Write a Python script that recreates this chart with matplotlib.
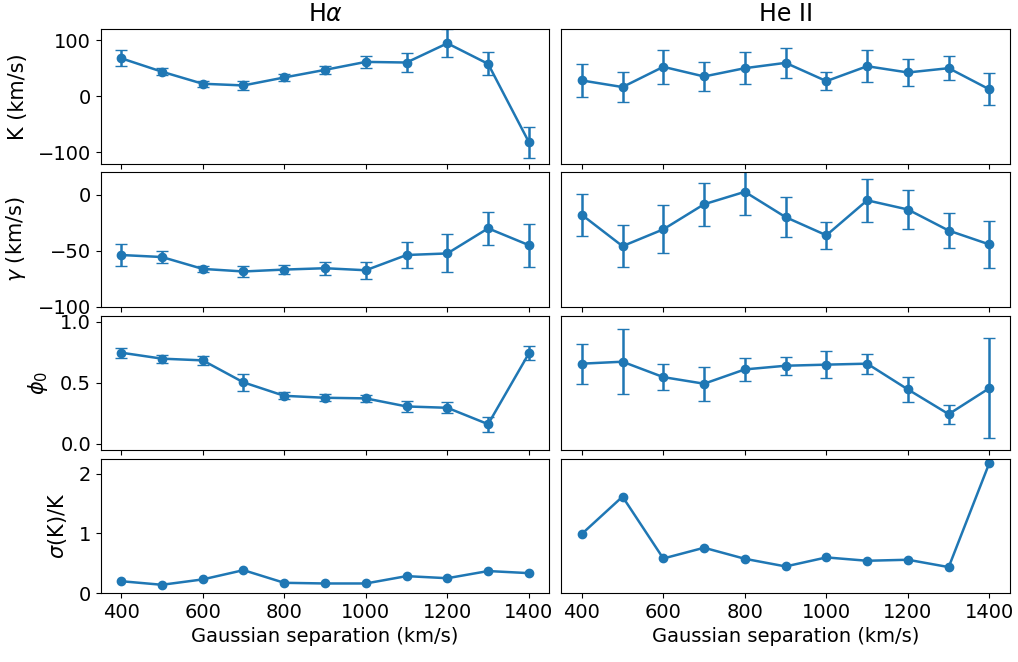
"""Orbital parameters vs Gaussian separation for Halpha and He II"""
import matplotlib
matplotlib.use("Agg")
import matplotlib.pyplot as plt
import numpy as np

sep = [400, 500, 600, 700, 800, 900, 1000, 1100, 1200, 1300, 1400]

# H alpha
ha_K = [68, 44, 22.5, 19.5, 33.7, 47.3, 61.5, 60.4, 94.7, 58, -81.7]
ha_K_err = [14, 6.5, 5, 8, 6, 7.5, 10, 17, 25, 20.7, 27.8]
ha_gamma = [-53.8, -55.6, -66.2, -68.5, -66.8, -65.6, -67.4, -53.8, -52.4, -30, -45]
ha_gamma_err = [9.6, 5, 3, 5, 4, 5.6, 7.5, 12, 17, 14.5, 19.3]
ha_phi = [0.746, 0.697, 0.683, 0.503, 0.393, 0.377, 0.372, 0.306, 0.295, 0.161, 0.740]
ha_phi_err = [0.04, 0.033, 0.037, 0.067, 0.03, 0.03, 0.031, 0.045, 0.046, 0.062, 0.058]
ha_sig = [0.20, 0.14, 0.23, 0.385, 0.173, 0.162, 0.162, 0.285, 0.25, 0.37, 0.335]

# He II
he_K = [28.4, 16.6, 52.7, 35.5, 50.3, 59.8, 27.2, 53.8, 42.6, 50.3, 12.4]
he_K_err = [28.7, 27.5, 30, 26.6, 29, 27, 16, 29, 24, 22, 28.7]
he_gamma = [-17.9, -45.9, -30.9, -8.5, 2.6, -20, -36.2, -5, -13.2, -32, -44.4]
he_gamma_err = [18.7, 19, 21.5, 19.3, 20.6, 18, 11.8, 19, 17, 15.4, 21]
he_phi = [0.656, 0.672, 0.546, 0.492, 0.609, 0.639, 0.648, 0.656, 0.445, 0.243, 0.456]
he_phi_err = [0.163, 0.266, 0.105, 0.138, 0.096, 0.075, 0.11, 0.083, 0.104, 0.077, 0.41]
he_sig = [0.99, 1.615, 0.58, 0.76, 0.575, 0.447, 0.598, 0.542, 0.559, 0.436, 2.184]

plt.rcParams['font.size'] = 14

fig, axes = plt.subplots(4, 2, figsize=(10.18, 6.62), dpi=100, sharex=True)
fig.subplots_adjust(left=0.099, right=0.992, bottom=0.104, top=0.956,
                    wspace=0.027, hspace=0.065)

kw = dict(fmt='o-', color='tab:blue', capsize=4, markersize=6, linewidth=1.8)

left = [(ha_K, ha_K_err), (ha_gamma, ha_gamma_err), (ha_phi, ha_phi_err), (ha_sig, None)]
right = [(he_K, he_K_err), (he_gamma, he_gamma_err), (he_phi, he_phi_err), (he_sig, None)]
ylims = [(-120, 120), (-100, 20), (-0.05, 1.05), (0, 2.25)]
ylabels = ["K (km/s)", r"$\gamma$ (km/s)", r"$\phi_0$", r"$\sigma$(K)/K"]

for i in range(4):
    for j, data in enumerate([left[i], right[i]]):
        ax = axes[i, j]
        vals, errs = data
        if errs is None:
            ax.plot(sep, vals, 'o-', color='tab:blue', markersize=6, linewidth=1.8)
        else:
            ax.errorbar(sep, vals, yerr=errs, **kw)
        ax.set_ylim(ylims[i])
        if j == 1:
            ax.set_yticks([])
    axes[i, 0].set_ylabel(ylabels[i], fontsize=15, labelpad=7)

axes[0, 0].set_yticks([-100, 0, 100])
axes[1, 0].set_yticks([-100, -50, 0])
axes[2, 0].set_yticks([0.0, 0.5, 1.0])
axes[3, 0].set_yticks([0, 1, 2])

axes[0, 0].set_title(r"H$\alpha$", fontsize=17)
axes[0, 1].set_title("He II", fontsize=17)
axes[3, 0].set_xticks(np.arange(400, 1401, 200))
axes[3, 0].set_xlabel("Gaussian separation (km/s)")
axes[3, 1].set_xlabel("Gaussian separation (km/s)")

plt.savefig("out.png")
